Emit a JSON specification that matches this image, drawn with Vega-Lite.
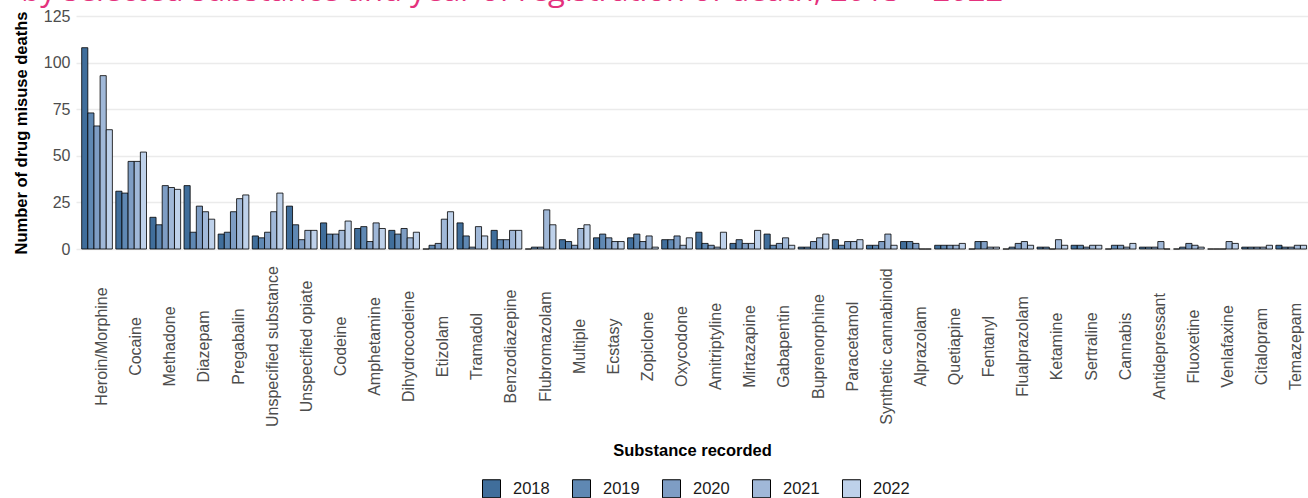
{
  "$schema": "https://vega.github.io/schema/vega-lite/v6.json",
  "width": 1232,
  "height": 233,
  "autosize": {"type": "none"},
  "padding": {"left": 76, "top": 16, "right": 0, "bottom": 249},
  "background": "white",
  "title": {
    "text": "by selected substance and year of registration of death, 2013 – 2022",
    "anchor": "start",
    "frame": "bounds",
    "color": "#e4327d",
    "font": "Open Sans",
    "fontSize": 31,
    "fontWeight": "normal",
    "baseline": "alphabetic",
    "offset": 3,
    "dx": 8,
    "dy": 27
  },
  "datasets": {
    "deaths": [
      {"substance": "Heroin/Morphine", "year": "2018", "deaths": 108},
      {"substance": "Heroin/Morphine", "year": "2019", "deaths": 73},
      {"substance": "Heroin/Morphine", "year": "2020", "deaths": 66},
      {"substance": "Heroin/Morphine", "year": "2021", "deaths": 93},
      {"substance": "Heroin/Morphine", "year": "2022", "deaths": 64},
      {"substance": "Cocaine", "year": "2018", "deaths": 31},
      {"substance": "Cocaine", "year": "2019", "deaths": 30},
      {"substance": "Cocaine", "year": "2020", "deaths": 47},
      {"substance": "Cocaine", "year": "2021", "deaths": 47},
      {"substance": "Cocaine", "year": "2022", "deaths": 52},
      {"substance": "Methadone", "year": "2018", "deaths": 17},
      {"substance": "Methadone", "year": "2019", "deaths": 13},
      {"substance": "Methadone", "year": "2020", "deaths": 34},
      {"substance": "Methadone", "year": "2021", "deaths": 33},
      {"substance": "Methadone", "year": "2022", "deaths": 32},
      {"substance": "Diazepam", "year": "2018", "deaths": 34},
      {"substance": "Diazepam", "year": "2019", "deaths": 9},
      {"substance": "Diazepam", "year": "2020", "deaths": 23},
      {"substance": "Diazepam", "year": "2021", "deaths": 20},
      {"substance": "Diazepam", "year": "2022", "deaths": 16},
      {"substance": "Pregabalin", "year": "2018", "deaths": 8},
      {"substance": "Pregabalin", "year": "2019", "deaths": 9},
      {"substance": "Pregabalin", "year": "2020", "deaths": 20},
      {"substance": "Pregabalin", "year": "2021", "deaths": 27},
      {"substance": "Pregabalin", "year": "2022", "deaths": 29},
      {"substance": "Unspecified substance", "year": "2018", "deaths": 7},
      {"substance": "Unspecified substance", "year": "2019", "deaths": 6},
      {"substance": "Unspecified substance", "year": "2020", "deaths": 9},
      {"substance": "Unspecified substance", "year": "2021", "deaths": 20},
      {"substance": "Unspecified substance", "year": "2022", "deaths": 30},
      {"substance": "Unspecified opiate", "year": "2018", "deaths": 23},
      {"substance": "Unspecified opiate", "year": "2019", "deaths": 13},
      {"substance": "Unspecified opiate", "year": "2020", "deaths": 5},
      {"substance": "Unspecified opiate", "year": "2021", "deaths": 10},
      {"substance": "Unspecified opiate", "year": "2022", "deaths": 10},
      {"substance": "Codeine", "year": "2018", "deaths": 14},
      {"substance": "Codeine", "year": "2019", "deaths": 8},
      {"substance": "Codeine", "year": "2020", "deaths": 8},
      {"substance": "Codeine", "year": "2021", "deaths": 10},
      {"substance": "Codeine", "year": "2022", "deaths": 15},
      {"substance": "Amphetamine", "year": "2018", "deaths": 11},
      {"substance": "Amphetamine", "year": "2019", "deaths": 12},
      {"substance": "Amphetamine", "year": "2020", "deaths": 4},
      {"substance": "Amphetamine", "year": "2021", "deaths": 14},
      {"substance": "Amphetamine", "year": "2022", "deaths": 11},
      {"substance": "Dihydrocodeine", "year": "2018", "deaths": 10},
      {"substance": "Dihydrocodeine", "year": "2019", "deaths": 8},
      {"substance": "Dihydrocodeine", "year": "2020", "deaths": 11},
      {"substance": "Dihydrocodeine", "year": "2021", "deaths": 6},
      {"substance": "Dihydrocodeine", "year": "2022", "deaths": 9},
      {"substance": "Etizolam", "year": "2018", "deaths": 0},
      {"substance": "Etizolam", "year": "2019", "deaths": 2},
      {"substance": "Etizolam", "year": "2020", "deaths": 3},
      {"substance": "Etizolam", "year": "2021", "deaths": 16},
      {"substance": "Etizolam", "year": "2022", "deaths": 20},
      {"substance": "Tramadol", "year": "2018", "deaths": 14},
      {"substance": "Tramadol", "year": "2019", "deaths": 7},
      {"substance": "Tramadol", "year": "2020", "deaths": 1},
      {"substance": "Tramadol", "year": "2021", "deaths": 12},
      {"substance": "Tramadol", "year": "2022", "deaths": 7},
      {"substance": "Benzodiazepine", "year": "2018", "deaths": 10},
      {"substance": "Benzodiazepine", "year": "2019", "deaths": 5},
      {"substance": "Benzodiazepine", "year": "2020", "deaths": 5},
      {"substance": "Benzodiazepine", "year": "2021", "deaths": 10},
      {"substance": "Benzodiazepine", "year": "2022", "deaths": 10},
      {"substance": "Flubromazolam", "year": "2018", "deaths": 0},
      {"substance": "Flubromazolam", "year": "2019", "deaths": 1},
      {"substance": "Flubromazolam", "year": "2020", "deaths": 1},
      {"substance": "Flubromazolam", "year": "2021", "deaths": 21},
      {"substance": "Flubromazolam", "year": "2022", "deaths": 13},
      {"substance": "Multiple", "year": "2018", "deaths": 5},
      {"substance": "Multiple", "year": "2019", "deaths": 4},
      {"substance": "Multiple", "year": "2020", "deaths": 2},
      {"substance": "Multiple", "year": "2021", "deaths": 11},
      {"substance": "Multiple", "year": "2022", "deaths": 13},
      {"substance": "Ecstasy", "year": "2018", "deaths": 6},
      {"substance": "Ecstasy", "year": "2019", "deaths": 8},
      {"substance": "Ecstasy", "year": "2020", "deaths": 6},
      {"substance": "Ecstasy", "year": "2021", "deaths": 4},
      {"substance": "Ecstasy", "year": "2022", "deaths": 4},
      {"substance": "Zopiclone", "year": "2018", "deaths": 6},
      {"substance": "Zopiclone", "year": "2019", "deaths": 8},
      {"substance": "Zopiclone", "year": "2020", "deaths": 4},
      {"substance": "Zopiclone", "year": "2021", "deaths": 7},
      {"substance": "Zopiclone", "year": "2022", "deaths": 1},
      {"substance": "Oxycodone", "year": "2018", "deaths": 5},
      {"substance": "Oxycodone", "year": "2019", "deaths": 5},
      {"substance": "Oxycodone", "year": "2020", "deaths": 7},
      {"substance": "Oxycodone", "year": "2021", "deaths": 2},
      {"substance": "Oxycodone", "year": "2022", "deaths": 6},
      {"substance": "Amitriptyline", "year": "2018", "deaths": 9},
      {"substance": "Amitriptyline", "year": "2019", "deaths": 3},
      {"substance": "Amitriptyline", "year": "2020", "deaths": 2},
      {"substance": "Amitriptyline", "year": "2021", "deaths": 1},
      {"substance": "Amitriptyline", "year": "2022", "deaths": 9},
      {"substance": "Mirtazapine", "year": "2018", "deaths": 3},
      {"substance": "Mirtazapine", "year": "2019", "deaths": 5},
      {"substance": "Mirtazapine", "year": "2020", "deaths": 3},
      {"substance": "Mirtazapine", "year": "2021", "deaths": 3},
      {"substance": "Mirtazapine", "year": "2022", "deaths": 10},
      {"substance": "Gabapentin", "year": "2018", "deaths": 8},
      {"substance": "Gabapentin", "year": "2019", "deaths": 2},
      {"substance": "Gabapentin", "year": "2020", "deaths": 3},
      {"substance": "Gabapentin", "year": "2021", "deaths": 6},
      {"substance": "Gabapentin", "year": "2022", "deaths": 2},
      {"substance": "Buprenorphine", "year": "2018", "deaths": 1},
      {"substance": "Buprenorphine", "year": "2019", "deaths": 1},
      {"substance": "Buprenorphine", "year": "2020", "deaths": 4},
      {"substance": "Buprenorphine", "year": "2021", "deaths": 6},
      {"substance": "Buprenorphine", "year": "2022", "deaths": 8},
      {"substance": "Paracetamol", "year": "2018", "deaths": 5},
      {"substance": "Paracetamol", "year": "2019", "deaths": 2},
      {"substance": "Paracetamol", "year": "2020", "deaths": 4},
      {"substance": "Paracetamol", "year": "2021", "deaths": 4},
      {"substance": "Paracetamol", "year": "2022", "deaths": 5},
      {"substance": "Synthetic cannabinoid", "year": "2018", "deaths": 2},
      {"substance": "Synthetic cannabinoid", "year": "2019", "deaths": 2},
      {"substance": "Synthetic cannabinoid", "year": "2020", "deaths": 4},
      {"substance": "Synthetic cannabinoid", "year": "2021", "deaths": 8},
      {"substance": "Synthetic cannabinoid", "year": "2022", "deaths": 2},
      {"substance": "Alprazolam", "year": "2018", "deaths": 4},
      {"substance": "Alprazolam", "year": "2019", "deaths": 4},
      {"substance": "Alprazolam", "year": "2020", "deaths": 3},
      {"substance": "Alprazolam", "year": "2021", "deaths": 0},
      {"substance": "Alprazolam", "year": "2022", "deaths": 0},
      {"substance": "Quetiapine", "year": "2018", "deaths": 2},
      {"substance": "Quetiapine", "year": "2019", "deaths": 2},
      {"substance": "Quetiapine", "year": "2020", "deaths": 2},
      {"substance": "Quetiapine", "year": "2021", "deaths": 2},
      {"substance": "Quetiapine", "year": "2022", "deaths": 3},
      {"substance": "Fentanyl", "year": "2018", "deaths": 0},
      {"substance": "Fentanyl", "year": "2019", "deaths": 4},
      {"substance": "Fentanyl", "year": "2020", "deaths": 4},
      {"substance": "Fentanyl", "year": "2021", "deaths": 1},
      {"substance": "Fentanyl", "year": "2022", "deaths": 1},
      {"substance": "Flualprazolam", "year": "2018", "deaths": 0},
      {"substance": "Flualprazolam", "year": "2019", "deaths": 1},
      {"substance": "Flualprazolam", "year": "2020", "deaths": 3},
      {"substance": "Flualprazolam", "year": "2021", "deaths": 4},
      {"substance": "Flualprazolam", "year": "2022", "deaths": 2},
      {"substance": "Ketamine", "year": "2018", "deaths": 1},
      {"substance": "Ketamine", "year": "2019", "deaths": 1},
      {"substance": "Ketamine", "year": "2020", "deaths": 0},
      {"substance": "Ketamine", "year": "2021", "deaths": 5},
      {"substance": "Ketamine", "year": "2022", "deaths": 2},
      {"substance": "Sertraline", "year": "2018", "deaths": 2},
      {"substance": "Sertraline", "year": "2019", "deaths": 2},
      {"substance": "Sertraline", "year": "2020", "deaths": 1},
      {"substance": "Sertraline", "year": "2021", "deaths": 2},
      {"substance": "Sertraline", "year": "2022", "deaths": 2},
      {"substance": "Cannabis", "year": "2018", "deaths": 0},
      {"substance": "Cannabis", "year": "2019", "deaths": 2},
      {"substance": "Cannabis", "year": "2020", "deaths": 2},
      {"substance": "Cannabis", "year": "2021", "deaths": 1},
      {"substance": "Cannabis", "year": "2022", "deaths": 3},
      {"substance": "Antidepressant", "year": "2018", "deaths": 1},
      {"substance": "Antidepressant", "year": "2019", "deaths": 1},
      {"substance": "Antidepressant", "year": "2020", "deaths": 1},
      {"substance": "Antidepressant", "year": "2021", "deaths": 4},
      {"substance": "Antidepressant", "year": "2022", "deaths": 0},
      {"substance": "Fluoxetine", "year": "2018", "deaths": 0},
      {"substance": "Fluoxetine", "year": "2019", "deaths": 1},
      {"substance": "Fluoxetine", "year": "2020", "deaths": 3},
      {"substance": "Fluoxetine", "year": "2021", "deaths": 2},
      {"substance": "Fluoxetine", "year": "2022", "deaths": 1},
      {"substance": "Venlafaxine", "year": "2018", "deaths": 0},
      {"substance": "Venlafaxine", "year": "2019", "deaths": 0},
      {"substance": "Venlafaxine", "year": "2020", "deaths": 0},
      {"substance": "Venlafaxine", "year": "2021", "deaths": 4},
      {"substance": "Venlafaxine", "year": "2022", "deaths": 3},
      {"substance": "Citalopram", "year": "2018", "deaths": 1},
      {"substance": "Citalopram", "year": "2019", "deaths": 1},
      {"substance": "Citalopram", "year": "2020", "deaths": 1},
      {"substance": "Citalopram", "year": "2021", "deaths": 1},
      {"substance": "Citalopram", "year": "2022", "deaths": 2},
      {"substance": "Temazepam", "year": "2018", "deaths": 2},
      {"substance": "Temazepam", "year": "2019", "deaths": 1},
      {"substance": "Temazepam", "year": "2020", "deaths": 1},
      {"substance": "Temazepam", "year": "2021", "deaths": 2},
      {"substance": "Temazepam", "year": "2022", "deaths": 2}
    ]
  },
  "data": {"name": "deaths"},
  "mark": {"type": "bar", "stroke": "#000000", "strokeWidth": 1, "strokeOpacity": 0.8},
  "encoding": {
    "x": {
      "field": "substance",
      "type": "nominal",
      "sort": null,
      "title": "Substance recorded",
      "scale": {"paddingInner": 0.1, "paddingOuter": 0.104, "align": 0.8},
      "axis": {
        "labelAngle": 270,
        "labelAlign": "center",
        "labelBaseline": "middle",
        "labelPadding": 97,
        "labelOffset": 5,
        "labelFontSize": 16,
        "labelColor": "#4d4d4d",
        "labelLimit": 0,
        "ticks": false,
        "domain": false,
        "grid": false,
        "titleFontSize": 16.5,
        "titleFontWeight": "bold",
        "titleColor": "#000000",
        "titlePadding": 16
      }
    },
    "xOffset": {
      "field": "year",
      "type": "nominal",
      "scale": {"paddingInner": 0, "paddingOuter": 0}
    },
    "y": {
      "field": "deaths",
      "type": "quantitative",
      "title": "Number of drug misuse deaths",
      "scale": {"domain": [0, 125], "nice": false},
      "axis": {
        "values": [0, 25, 50, 75, 100, 125],
        "labelFontSize": 16,
        "labelColor": "#4d4d4d",
        "labelPadding": 6,
        "ticks": false,
        "domain": false,
        "grid": true,
        "gridColor": "#ebebeb",
        "gridWidth": 1.3,
        "titleFontSize": 16.5,
        "titleFontWeight": "bold",
        "titleColor": "#000000",
        "titlePadding": 14
      }
    },
    "color": {
      "field": "year",
      "type": "nominal",
      "scale": {"range": ["#406e9b", "#5f88b3", "#7e9dc4", "#a0b8d8", "#bed1ea"]},
      "legend": {
        "orient": "none",
        "legendX": 406,
        "legendY": 463,
        "direction": "horizontal",
        "title": null,
        "padding": 0,
        "symbolType": "square",
        "symbolSize": 324,
        "symbolStrokeColor": "#000000",
        "symbolStrokeWidth": 1,
        "symbolOpacity": 1,
        "labelFontSize": 16.5,
        "labelColor": "#1a1a1a",
        "labelOffset": 12,
        "columnPadding": 20
      }
    }
  },
  "config": {
    "view": {"stroke": null},
    "font": "Liberation Sans"
  }
}
